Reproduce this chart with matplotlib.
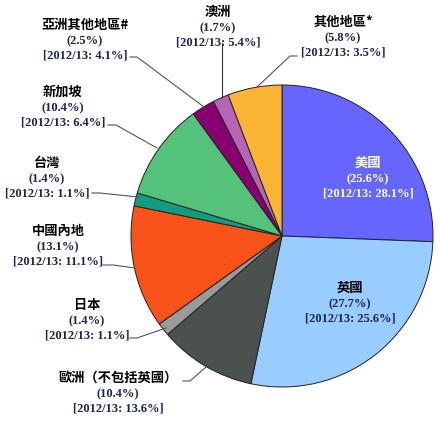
import matplotlib
matplotlib.use('Agg')
import matplotlib.pyplot as plt

# data (clockwise from 12 o'clock)
regions = ['美國', '英國', '歐洲（不包括英國）', '日本', '中國內地', '台灣',
           '新加坡', '亞洲其他地區#', '澳洲', '其他地區*']
share = [25.6, 27.7, 10.4, 1.4, 13.1, 1.4, 10.4, 2.5, 1.7, 5.8]
share_prev = [28.1, 25.6, 13.6, 1.1, 11.1, 1.1, 6.4, 4.1, 5.4, 3.5]
colors = ['#6666FF', '#99CCFF', '#4B514E', '#9A9A9A', '#F75218', '#129C82',
          '#55C27C', '#880070', '#B466B4', '#FBB535']

# label layout in pixel coords (image y downwards): text centre, leader line
label_pos = [(368, 163), (350, 288), (118, 378), (87, 305), (58, 231), (47, 163),
             (63, 92), (85, 25), (218, 12), (343, 22)]
leaders = [None, None,
           [(183, 381), (190, 381), (206, 367)],
           [(130, 338), (137, 338), (166, 328)],
           [(103, 265), (113, 265), (135, 268)],
           [(92, 193), (100, 193), (138, 197)],
           [(108, 125), (116, 125), (157, 148)],
           [(130, 57), (137, 57), (204, 107)],
           [(222, 43), (222, 97)],
           [(297, 56), (290, 56), (257, 87)]]

W, H = 440, 424
fig = plt.figure(figsize=(4.4, 4.24), dpi=100)
ax = fig.add_axes([0, 0, 1, 1])

ax.pie(share, colors=colors, startangle=90, counterclock=False,
       center=(282, H - 236), radius=151, frame=True,
       wedgeprops=dict(edgecolor='#222222', linewidth=0.7))
ax.set_xlim(0, W)
ax.set_ylim(0, H)
ax.set_aspect('equal')
ax.axis('off')

cjk = ['Noto Sans CJK TC', 'DejaVu Sans']
num = ['Liberation Serif', 'Noto Sans CJK TC']
for i, (name, s, p) in enumerate(zip(regions, share, share_prev)):
    x, y = label_pos[i]
    white = (i == 0)
    c1 = 'white' if white else 'black'
    c2 = 'white' if white else '#1C2550'
    ax.text(x, H - y, name, ha='center', va='center', fontsize=9.5,
            fontweight='bold', family=cjk, color=c1)
    ax.text(x, H - y - 16, '(%.1f%%)' % s, ha='center', va='center',
            fontsize=9, fontweight='bold', family=num, color=c2)
    ax.text(x, H - y - 30.5, '[2012/13: %.1f%%]' % p, ha='center', va='center',
            fontsize=9, fontweight='bold', family=num, color=c2)
    if leaders[i]:
        xs = [pt[0] for pt in leaders[i]]
        ys = [H - pt[1] for pt in leaders[i]]
        ax.plot(xs, ys, color='#333333' if i == 8 else '#555555', lw=0.8)

fig.savefig('out.png', dpi=100)
